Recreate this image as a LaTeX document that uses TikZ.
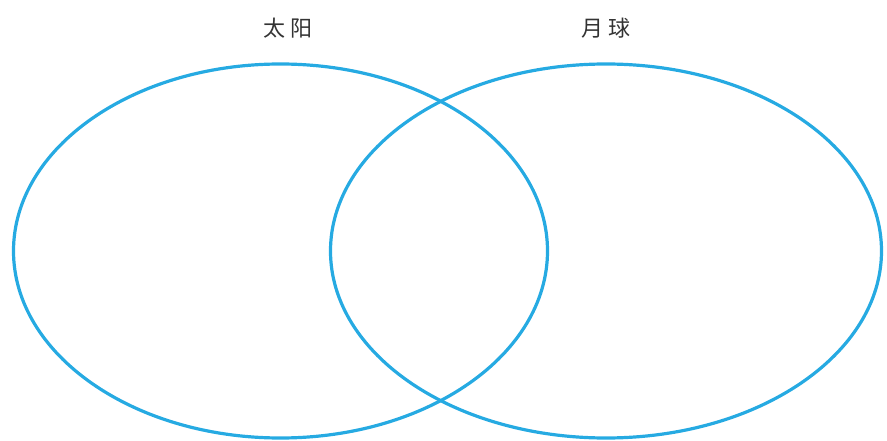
\documentclass[tikz,border=0pt]{standalone}
\usepackage{fontspec}
\newfontfamily\cjk{Noto Sans CJK SC}
\definecolor{vennblue}{RGB}{38,170,226}
\usetikzlibrary{
    shapes.geometric,
    positioning
}
\tikzstyle{setcircle} = [
    ellipse,
    draw=vennblue,
    line width=3.2pt,
    inner sep=0pt
]
\tikzstyle{setlabel} = [
    font=\cjk\fontsize{22pt}{22pt}\selectfont,
    text=black!80,
    inner sep=0pt
]
\begin{document}
\begin{tikzpicture}[x=1pt, y=-1pt]
        \useasboundingbox (0,0) rectangle (887,441);

        % Sets
        \node[setcircle, minimum width=534pt, minimum height=374pt] (sun) at (280.5,251) {};
        \node[setcircle, minimum width=551pt, minimum height=374pt] (moon) at (606,251) {};

        % Labels
        \node[setlabel] (sunlabel) at (288,28) {太\hspace{6pt}阳};
        \node[setlabel] (moonlabel) at (606,28) {月\hspace{6pt}球};
    \end{tikzpicture}
\end{document}
